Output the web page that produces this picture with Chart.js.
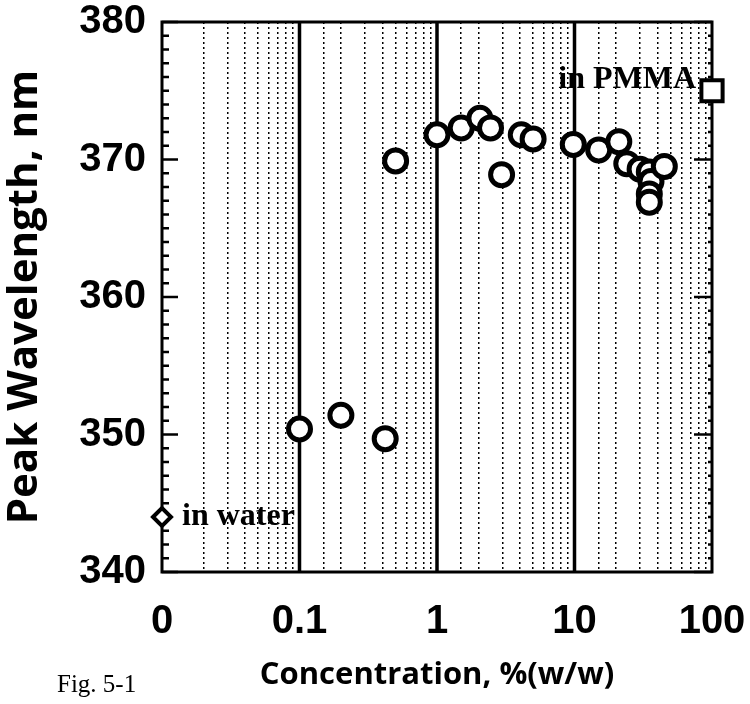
<!DOCTYPE html>
<html lang="en">
<head>
<meta charset="UTF-8">
<title>Peak Wavelength vs Concentration</title>
<script src="https://cdn.jsdelivr.net/npm/chart.js"></script>
<style>
    body { margin: 0; background: #fff; }
    #wrap { width: 750px; height: 704px; }
</style>
</head>
<body>
<div id="wrap"><canvas id="peakChart" width="750" height="704"></canvas></div>
<script>
    // measured peaks, concentration in %(w/w)
    const concentration = [0.1, 0.2, 0.42, 0.5, 1.0, 1.5, 2.05, 2.45, 2.95, 4.1, 5.0, 9.8, 15, 21, 24, 30, 35, 36, 35, 35, 45];
    const peakWavelength = [350.4, 351.4, 349.7, 369.9, 371.8, 372.3, 373.0, 372.3, 368.9, 371.8, 371.5, 371.1, 370.7, 371.3, 369.7, 369.3, 369.1, 368.4, 367.5, 366.9, 369.5];

    // reference solvents ("0" sits at the left end of the log axis)
    const waterConc = [0.01];
    const waterPeak = [344];
    const pmmaConc = [100];
    const pmmaPeak = [375];

    const xTickValues = [0.01, 0.1, 1, 10, 100];
    const xTickText = ['0', '0.1', '1', '10', '100'];

    function decadeIndex(v) {
        return xTickValues.findIndex(t => Math.abs(Math.log10(v) - Math.log10(t)) < 1e-6);
    }

    const tickFont = { family: '"Liberation Sans", sans-serif', weight: 'bold', size: 40 };

    // solid decade lines, frame and inward ticks
    const framePlugin = {
        id: 'frame',
        beforeDatasetsDraw(chart) {
            const { ctx, chartArea: a, scales } = chart;
            ctx.save();
            ctx.strokeStyle = '#000';
            ctx.lineWidth = 3.5;
            [0.1, 1, 10].forEach(v => {
                const px = scales.x.getPixelForValue(v);
                ctx.beginPath();
                ctx.moveTo(px, a.top);
                ctx.lineTo(px, a.bottom);
                ctx.stroke();
            });
            ctx.lineWidth = 3;
            ctx.strokeRect(a.left, a.top, a.right - a.left, a.bottom - a.top);
            ctx.lineWidth = 2.5;
            for (let v = 340; v <= 380; v++) {
                const py = scales.y.getPixelForValue(v);
                const major = v % 10 === 0;
                ctx.beginPath();
                ctx.moveTo(a.left, py);
                ctx.lineTo(a.left + (major ? 16 : 7), py);
                ctx.moveTo(a.right, py);
                ctx.lineTo(a.right - (major ? 18 : 4), py);
                ctx.stroke();
            }
            ctx.restore();
        },
        afterDatasetsDraw(chart) {
            const { ctx, scales } = chart;
            ctx.save();
            ctx.fillStyle = '#000';
            ctx.textBaseline = 'middle';
            ctx.font = 'bold 32px "Liberation Serif", serif';
            ctx.textAlign = 'left';
            ctx.fillText('in water', scales.x.getPixelForValue(waterConc[0]) + 20, scales.y.getPixelForValue(waterPeak[0]));
            ctx.textAlign = 'right';
            ctx.fillText('in PMMA', scales.x.getPixelForValue(pmmaConc[0]) - 16, scales.y.getPixelForValue(pmmaPeak[0]) - 11);
            ctx.font = '25px "Liberation Serif", serif';
            ctx.textAlign = 'left';
            ctx.textBaseline = 'alphabetic';
            ctx.fillText('Fig. 5-1', 57, 692);
            ctx.restore();
        }
    };

    const ctx = document.getElementById('peakChart').getContext('2d');
    new Chart(ctx, {
        type: 'scatter',
        data: {
            datasets: [{
                label: 'Peak',
                data: concentration.map((c, i) => ({ x: c, y: peakWavelength[i] })),
                pointStyle: 'circle',
                pointRadius: 11,
                borderWidth: 5,
                borderColor: '#000',
                backgroundColor: '#fff',
                clip: false
            }, {
                label: 'in water',
                data: waterConc.map((c, i) => ({ x: c, y: waterPeak[i] })),
                pointStyle: 'rectRot',
                pointRadius: 9,
                borderWidth: 4,
                borderColor: '#000',
                backgroundColor: '#fff',
                clip: false
            }, {
                label: 'in PMMA',
                data: pmmaConc.map((c, i) => ({ x: c, y: pmmaPeak[i] })),
                pointStyle: 'rect',
                pointRadius: 15,
                borderWidth: 4,
                borderColor: '#000',
                backgroundColor: '#fff',
                clip: false
            }]
        },
        options: {
            responsive: false,
            animation: false,
            layout: { padding: { left: 0, top: 22, right: 38, bottom: 0 } },
            plugins: {
                legend: { display: false },
                tooltip: { enabled: false }
            },
            scales: {
                x: {
                    type: 'logarithmic',
                    min: 0.01,
                    max: 100,
                    afterFit(scale) {
                        scale.height = 132;
                        scale.paddingLeft = 0;
                        scale.paddingRight = 0;
                    },
                    border: { display: false, dash: [2, 3] },
                    grid: {
                        drawTicks: false,
                        lineWidth: 1.5,
                        color: c => (c.tick && decadeIndex(c.tick.value) >= 0) ? 'rgba(0,0,0,0)' : '#000'
                    },
                    ticks: {
                        autoSkip: false,
                        maxRotation: 0,
                        padding: 26,
                        color: '#000',
                        font: tickFont,
                        callback: v => {
                            const i = decadeIndex(v);
                            return i >= 0 ? xTickText[i] : '';
                        }
                    },
                    title: {
                        display: true,
                        text: 'Concentration, %(w/w)',
                        color: '#000',
                        font: { family: '"Open Sans", sans-serif', weight: 'bold', size: 31 },
                        padding: { top: 0, bottom: 10 }
                    }
                },
                y: {
                    min: 340,
                    max: 380,
                    afterFit(scale) {
                        scale.width = 162;
                        scale.paddingTop = 0;
                        scale.paddingBottom = 0;
                    },
                    border: { display: false },
                    grid: { display: false, drawTicks: false },
                    ticks: {
                        stepSize: 10,
                        padding: 16,
                        color: '#000',
                        font: tickFont
                    },
                    title: {
                        display: true,
                        text: 'Peak Wavelength, nm',
                        color: '#000',
                        font: { family: '"Open Sans", sans-serif', weight: 'bold', size: 42 },
                        padding: { top: 0, bottom: 0 }
                    }
                }
            }
        },
        plugins: [framePlugin]
    });
</script>
</body>
</html>
